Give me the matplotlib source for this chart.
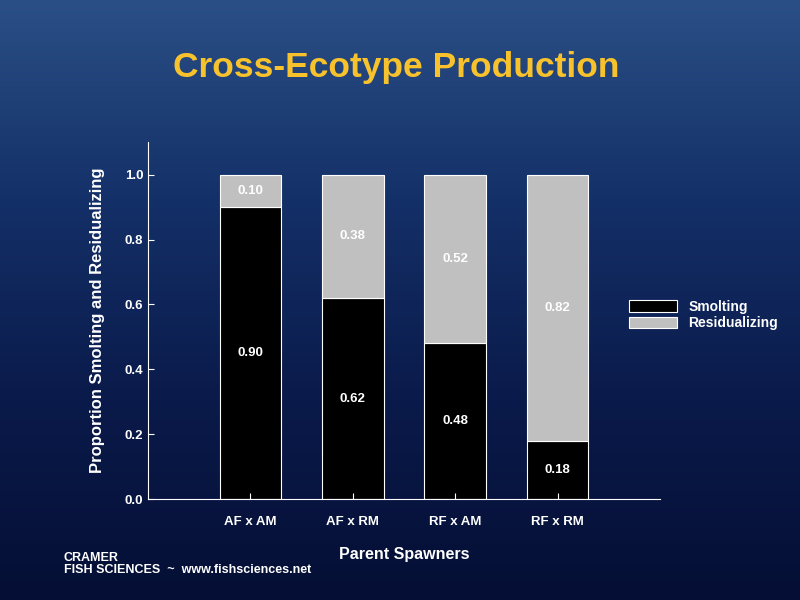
import matplotlib
matplotlib.use("Agg")
import matplotlib.pyplot as plt
import numpy as np
from matplotlib.colors import LinearSegmentedColormap

plt.rcParams['font.family'] = ['Liberation Sans', 'DejaVu Sans']

categories = ["AF x AM", "AF x RM", "RF x AM", "RF x RM"]
smolting = [0.90, 0.62, 0.48, 0.18]
residualizing = [0.10, 0.38, 0.52, 0.82]

fig = plt.figure(figsize=(8, 6), dpi=100)
bg = fig.add_axes([0, 0, 1, 1])
grad = np.linspace(0, 1, 256).reshape(-1, 1)
cmap = LinearSegmentedColormap.from_list("bg", ["#2a4f86", "#143068", "#0a1a4a", "#050f35"])
bg.imshow(grad, aspect="auto", cmap=cmap, extent=[0, 1, 0, 1], origin="upper")
bg.axis("off")

fig.text(0.495, 0.888, "Cross-Ecotype Production", color="#f8c22c", fontsize=25.5,
         fontweight="bold", ha="center", va="center")

ax = fig.add_axes([0.185, 0.168, 0.64, 0.595])
ax.set_facecolor("none")
x = np.arange(len(categories))
ax.bar(x, smolting, width=0.6, color="black", edgecolor="white", linewidth=0.8, label="Smolting")
ax.bar(x, residualizing, width=0.6, bottom=smolting, color="#c0c0c0", edgecolor="white",
       linewidth=0.8, label="Residualizing")
for i, (s, r) in enumerate(zip(smolting, residualizing)):
    ax.text(i, s / 2, f"{s:.2f}", color="white", ha="center", va="center", fontsize=9.5, fontweight="bold")
    ax.text(i, s + r / 2, f"{r:.2f}", color="white", ha="center", va="center", fontsize=9.5, fontweight="bold")
ax.set_xlim(-1, 4)
ax.set_ylim(0, 1.1)
ax.set_xticks(x)
ax.set_xticklabels(categories)
ax.set_yticks(np.arange(0, 1.01, 0.2))
ax.set_yticklabels([f"{v:.1f}" for v in np.arange(0, 1.01, 0.2)])
for sp in ["top", "right"]:
    ax.spines[sp].set_visible(False)
for sp in ["left", "bottom"]:
    ax.spines[sp].set_color("white")
ax.tick_params(colors="white", labelsize=9.5, direction="in", length=4)
for lbl in ax.get_xticklabels() + ax.get_yticklabels():
    lbl.set_fontweight("bold")
ax.tick_params(axis="x", pad=12)
ax.set_xlabel("Parent Spawners", color="white", fontsize=11.5, fontweight="bold", labelpad=14)
ax.set_ylabel("Proportion Smolting and Residualizing", color="white", fontsize=12,
              fontweight="bold", labelpad=14)
leg = fig.legend(loc="center left", bbox_to_anchor=(0.77, 0.475), frameon=False,
                 fontsize=10, handlelength=3.5, handleheight=0.9, labelspacing=0.2)
for t in leg.get_texts():
    t.set_color("white")
    t.set_fontweight("bold")

fig.text(0.08, 0.06, "CRAMER\nFISH SCIENCES  ~  www.fishsciences.net", color="white",
         fontsize=9, fontweight="bold", va="center", ha="left", linespacing=0.9)

fig.savefig("out.png", dpi=100)
